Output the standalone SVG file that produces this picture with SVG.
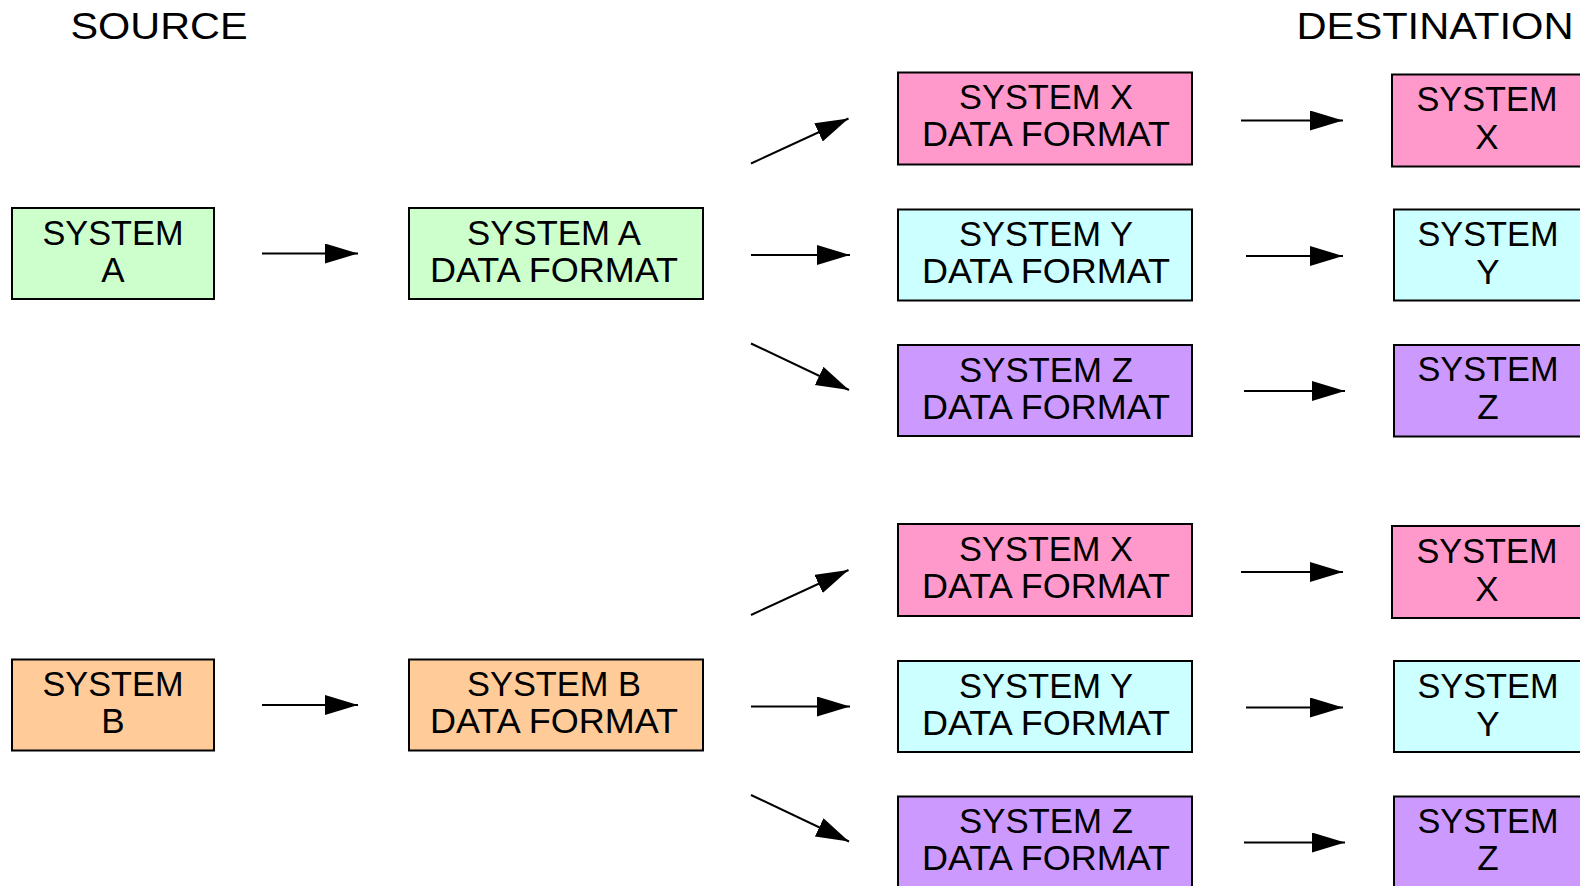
<svg xmlns="http://www.w3.org/2000/svg" width="1580" height="886" viewBox="0 0 1580 886">
<defs>
<marker id="ah" markerUnits="userSpaceOnUse" markerWidth="34" markerHeight="22" refX="33" refY="10" orient="auto">
<path d="M0,0 L33,10 L0,20 z" fill="#000"/>
</marker>
<style>
rect{stroke:#000;stroke-width:2}
.g{fill:#CCFFCC}.o{fill:#FFCC99}.p{fill:#FF99CC}.c{fill:#CCFFFF}.v{fill:#CC99FF}
text{font-family:"Liberation Sans",Arial,sans-serif;font-size:35px;fill:#000;text-anchor:middle}
.t{font-size:36px;text-anchor:start}
#connectors line{stroke:#000;stroke-width:2;marker-end:url(#ah)}
</style>
</defs>
<rect x="0" y="0" width="1580" height="886" fill="#fff" style="stroke:none"/>
<text class="t" x="70.5" y="38.5" textLength="177" lengthAdjust="spacingAndGlyphs">SOURCE</text>
<text class="t" x="1296.5" y="38.5" textLength="277" lengthAdjust="spacingAndGlyphs">DESTINATION</text>

<g id="sysA"><rect class="g" x="12" y="208" width="202" height="91"/><text x="113" y="244.5" textLength="141" lengthAdjust="spacingAndGlyphs">SYSTEM</text><text x="113" y="281.5">A</text></g>
<g id="fmtA"><rect class="g" x="409" y="208" width="294" height="91"/><text x="554" y="244.5" textLength="174" lengthAdjust="spacingAndGlyphs">SYSTEM A</text><text x="554" y="281.5" textLength="248" lengthAdjust="spacingAndGlyphs">DATA FORMAT</text></g>
<g id="fmtAX"><rect class="p" x="898" y="72.5" width="294" height="92"/><text x="1046" y="109" textLength="174" lengthAdjust="spacingAndGlyphs">SYSTEM X</text><text x="1046" y="146" textLength="248" lengthAdjust="spacingAndGlyphs">DATA FORMAT</text></g>
<g id="fmtAY"><rect class="c" x="898" y="209.5" width="294" height="91"/><text x="1046" y="246" textLength="174" lengthAdjust="spacingAndGlyphs">SYSTEM Y</text><text x="1046" y="283" textLength="248" lengthAdjust="spacingAndGlyphs">DATA FORMAT</text></g>
<g id="fmtAZ"><rect class="v" x="898" y="345" width="294" height="91"/><text x="1046" y="381.5" textLength="174" lengthAdjust="spacingAndGlyphs">SYSTEM Z</text><text x="1046" y="418.5" textLength="248" lengthAdjust="spacingAndGlyphs">DATA FORMAT</text></g>
<g id="dstAX"><rect class="p" x="1392" y="74.5" width="200" height="92"/><text x="1487" y="111" textLength="141" lengthAdjust="spacingAndGlyphs">SYSTEM</text><text x="1487" y="149">X</text></g>
<g id="dstAY"><rect class="c" x="1394" y="209.5" width="200" height="91"/><text x="1488" y="246" textLength="141" lengthAdjust="spacingAndGlyphs">SYSTEM</text><text x="1488" y="284">Y</text></g>
<g id="dstAZ"><rect class="v" x="1394" y="345" width="200" height="91.5"/><text x="1488" y="381" textLength="141" lengthAdjust="spacingAndGlyphs">SYSTEM</text><text x="1488" y="419">Z</text></g>

<g id="sysB"><rect class="o" x="12" y="659.5" width="202" height="91"/><text x="113" y="696" textLength="141" lengthAdjust="spacingAndGlyphs">SYSTEM</text><text x="113" y="733">B</text></g>
<g id="fmtB"><rect class="o" x="409" y="659.5" width="294" height="91"/><text x="554" y="696" textLength="174" lengthAdjust="spacingAndGlyphs">SYSTEM B</text><text x="554" y="733" textLength="248" lengthAdjust="spacingAndGlyphs">DATA FORMAT</text></g>
<g id="fmtBX"><rect class="p" x="898" y="524" width="294" height="92"/><text x="1046" y="560.5" textLength="174" lengthAdjust="spacingAndGlyphs">SYSTEM X</text><text x="1046" y="597.5" textLength="248" lengthAdjust="spacingAndGlyphs">DATA FORMAT</text></g>
<g id="fmtBY"><rect class="c" x="898" y="661" width="294" height="91"/><text x="1046" y="697.5" textLength="174" lengthAdjust="spacingAndGlyphs">SYSTEM Y</text><text x="1046" y="734.5" textLength="248" lengthAdjust="spacingAndGlyphs">DATA FORMAT</text></g>
<g id="fmtBZ"><rect class="v" x="898" y="796.5" width="294" height="91"/><text x="1046" y="833" textLength="174" lengthAdjust="spacingAndGlyphs">SYSTEM Z</text><text x="1046" y="870" textLength="248" lengthAdjust="spacingAndGlyphs">DATA FORMAT</text></g>
<g id="dstBX"><rect class="p" x="1392" y="526" width="200" height="92"/><text x="1487" y="562.5" textLength="141" lengthAdjust="spacingAndGlyphs">SYSTEM</text><text x="1487" y="600.5">X</text></g>
<g id="dstBY"><rect class="c" x="1394" y="661" width="200" height="91"/><text x="1488" y="697.5" textLength="141" lengthAdjust="spacingAndGlyphs">SYSTEM</text><text x="1488" y="735.5">Y</text></g>
<g id="dstBZ"><rect class="v" x="1394" y="796.5" width="200" height="91.5"/><text x="1488" y="832.5" textLength="141" lengthAdjust="spacingAndGlyphs">SYSTEM</text><text x="1488" y="870">Z</text></g>

<g id="connectors">
<line x1="262" y1="253.5" x2="358" y2="253.5"/>
<line x1="751" y1="163.5" x2="848.5" y2="118.5"/>
<line x1="751" y1="255" x2="850" y2="255"/>
<line x1="751" y1="343.5" x2="849" y2="390"/>
<line x1="1241" y1="120.5" x2="1343" y2="120.5"/>
<line x1="1246" y1="256" x2="1343" y2="256"/>
<line x1="1244" y1="391" x2="1345" y2="391"/>

<line x1="262" y1="705" x2="358" y2="705"/>
<line x1="751" y1="615" x2="848.5" y2="570"/>
<line x1="751" y1="706.5" x2="850" y2="706.5"/>
<line x1="751" y1="795" x2="849" y2="841.5"/>
<line x1="1241" y1="572" x2="1343" y2="572"/>
<line x1="1246" y1="707.5" x2="1343" y2="707.5"/>
<line x1="1244" y1="842.5" x2="1345" y2="842.5"/>
</g>
</svg>
